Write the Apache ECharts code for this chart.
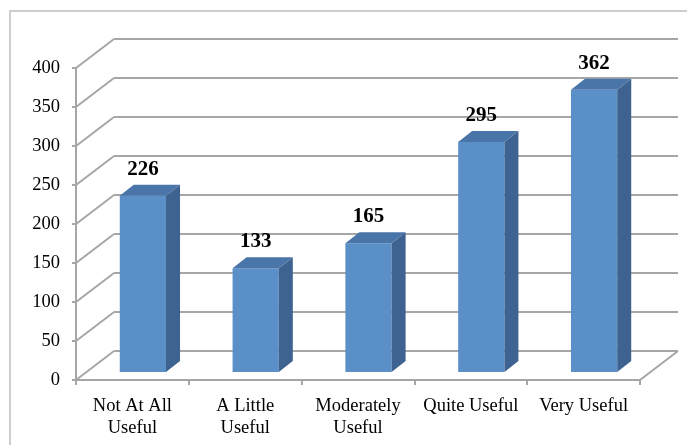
<!DOCTYPE html>
<html>
<head>
<meta charset="utf-8">
<script src="https://cdn.jsdelivr.net/npm/echarts@6/dist/echarts.min.js"></script>
<style>
html,body{margin:0;padding:0;background:#fff;}
#chart{width:687px;height:445px;}
</style>
</head>
<body>
<div id="chart"></div>
<script>
const categories = ['Not At All\nUseful', 'A Little\nUseful', 'Moderately\nUseful', 'Quite Useful', 'Very Useful'];
const values = [226, 133, 165, 295, 362];
const gridValues = [0, 50, 100, 150, 200, 250, 300, 350, 400];

const FONT = '"Liberation Serif", "Times New Roman", serif';
const GRID_COLOR = '#A6A6A6';
// 3D depth of the plot box (back wall offset) and of the bars
const DX = 38, DY = -29;
const BAR_OX = 10.5, BAR_OY = -8;   // bar front face shift from the floor front edge
const BAR_DX = 14, BAR_DY = -11;    // bar depth
const BAR_W = 0.41;                  // fraction of category band

const chart = echarts.init(document.getElementById('chart'), null, {renderer: 'canvas'});

function gridRender(params, api) {
  const cs = params.coordSys;
  const v = api.value(1);
  const y = api.coord([0, v])[1];
  const left = cs.x, right = cs.x + cs.width;
  const st = {stroke: GRID_COLOR, lineWidth: 2, fill: null};
  const children = [
    {type: 'line', shape: {x1: left, y1: y, x2: left + DX, y2: y + DY}, style: st},
    {type: 'line', shape: {x1: left + DX, y1: y + DY, x2: right + DX, y2: y + DY}, style: st}
  ];
  if (v === 0) {
    children.push({type: 'line', shape: {x1: right, y1: y, x2: right + DX, y2: y + DY}, style: st});
  }
  return {type: 'group', children: children};
}

function barRender(params, api) {
  const i = api.value(0), v = api.value(1);
  const base = api.coord([i, 0]);
  const top = api.coord([i, v]);
  const band = api.size([1, 0])[0];
  const w = band * BAR_W;
  const cx = base[0] + BAR_OX;
  const x0 = cx - w / 2, x1 = cx + w / 2;
  const yb = base[1] + BAR_OY, yt = top[1] + BAR_OY;
  return {
    type: 'group',
    children: [
      {type: 'rect', shape: {x: x0, y: yt, width: w, height: yb - yt}, style: {fill: '#5B8FC7'}},
      {type: 'polygon', shape: {points: [[x1, yt], [x1 + BAR_DX, yt + BAR_DY], [x1 + BAR_DX, yb + BAR_DY], [x1, yb]]}, style: {fill: '#3F6390'}},
      {type: 'polygon', shape: {points: [[x0, yt], [x0 + BAR_DX, yt + BAR_DY], [x1 + BAR_DX, yt + BAR_DY], [x1, yt]]}, style: {fill: '#4A75A8'}},
      {type: 'text', style: {text: String(v), x: cx, y: yt + BAR_DY - 5, align: 'center', verticalAlign: 'bottom', font: 'bold 21px ' + FONT, fill: '#000'}}
    ]
  };
}

const option = {
  animation: false,
  backgroundColor: '#fff',
  graphic: [{
    type: 'rect', shape: {x: 10, y: 11, width: 720, height: 500},
    style: {fill: null, stroke: '#BFBFBF', lineWidth: 1.5}, silent: true
  }],
  grid: {left: 76, right: 47, top: 68, bottom: 65, containLabel: false},
  xAxis: {
    type: 'category',
    data: categories,
    axisLine: {show: true, lineStyle: {color: GRID_COLOR, width: 2}},
    axisTick: {show: true, length: 5, lineStyle: {color: GRID_COLOR, width: 2}},
    axisLabel: {color: '#000', fontFamily: FONT, fontSize: 18.5, lineHeight: 22, margin: 15, interval: 0}
  },
  yAxis: {
    type: 'value', min: 0, max: 400, interval: 50,
    axisLine: {show: true, lineStyle: {color: GRID_COLOR, width: 2}},
    axisTick: {show: true, length: 4, lineStyle: {color: GRID_COLOR, width: 2}},
    splitLine: {show: false},
    axisLabel: {color: '#000', fontFamily: FONT, fontSize: 18.5, margin: 16}
  },
  series: [
    {
      type: 'custom', name: 'grid', renderItem: gridRender, clip: false, z: 1,
      encode: {x: 0, y: 1},
      data: gridValues.map(v => [0, v]), silent: true
    },
    {
      type: 'custom', name: 'bars', renderItem: barRender, clip: false, z: 3,
      encode: {x: 0, y: 1},
      data: values.map((v, i) => [i, v])
    }
  ]
};
chart.setOption(option);
</script>
</body>
</html>
